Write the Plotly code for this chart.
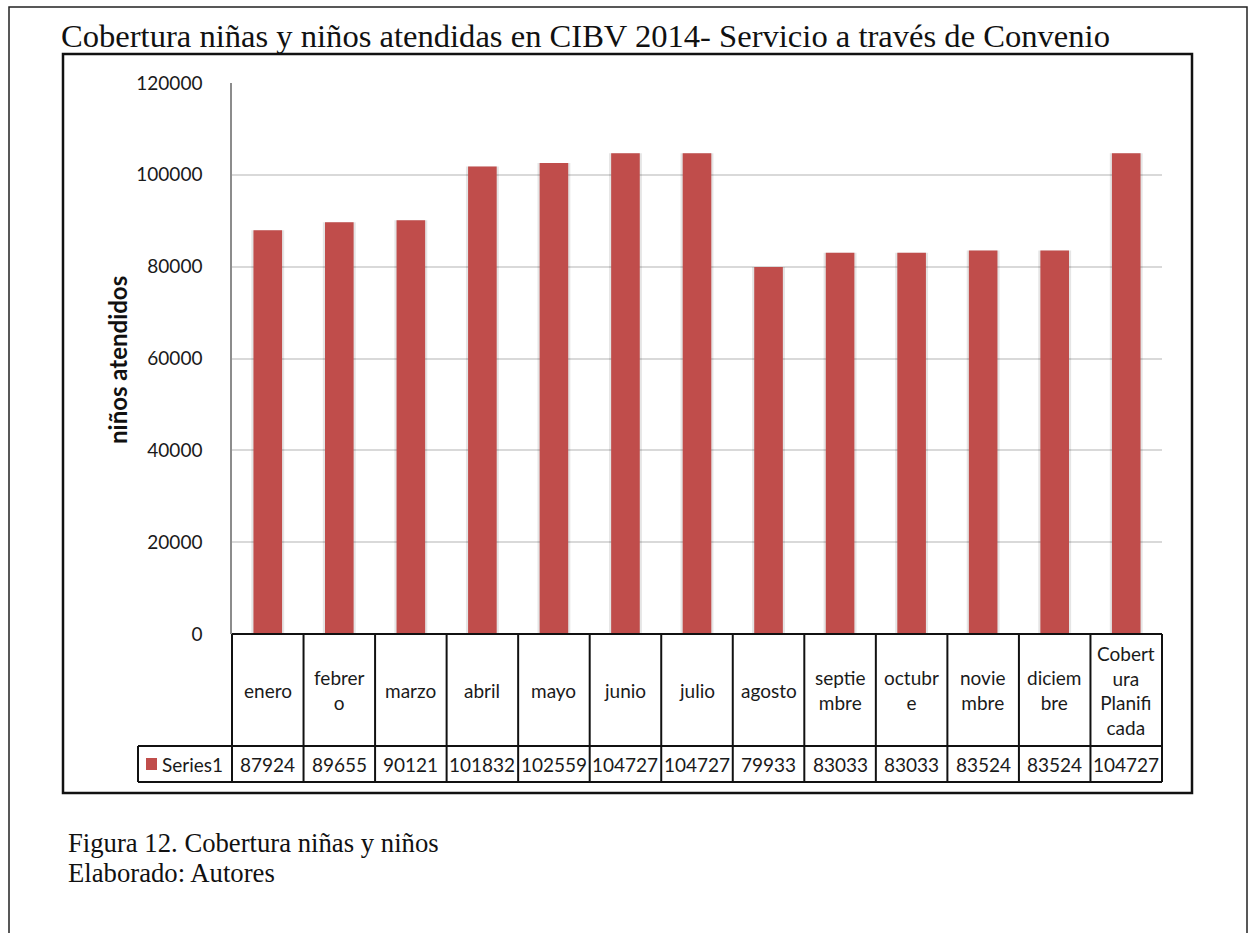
import plotly.graph_objects as go

# ---- data ----
categories = ["enero", "febrero", "marzo", "abril", "mayo", "junio", "julio",
              "agosto", "septiembre", "octubre", "noviembre", "diciembre",
              "Cobertura Planificada"]
cat_labels = ["enero", "febrer<br>o", "marzo", "abril", "mayo", "junio", "julio",
              "agosto", "septie<br>mbre", "octubr<br>e", "novie<br>mbre",
              "diciem<br>bre", "Cobert<br>ura<br>Planifi<br>cada"]
values = [87924, 89655, 90121, 101832, 102559, 104727, 104727,
          79933, 83033, 83033, 83524, 83524, 104727]
series_name = "Series1"
y_ticks = [0, 20000, 40000, 60000, 80000, 100000, 120000]
title_text = "Cobertura niñas y niños atendidas en CIBV 2014- Servicio a través de Convenio"
caption_lines = ["Figura 12. Cobertura niñas y niños", "Elaborado: Autores"]
y_title = "niños atendidos"

# ---- layout geometry (pixels) ----
W, H = 1256, 933
PL, PR, PT, PB = 232, 1162, 83, 634   # plot area
n = len(categories)

def px(xp):
    return (xp - PL) / (PR - PL)

def py(yp):
    return (PB - yp) / (PB - PT)

SANS = "Lato, 'Open Sans', sans-serif"
SERIF = "'Liberation Serif', 'Times New Roman', serif"
BAR = "#c04d4b"

fig = go.Figure()
# soft shadow behind bars
fig.add_trace(go.Bar(x=categories, y=values, width=0.46,
                     marker=dict(color="rgba(0,0,0,0.10)", line=dict(width=0)),
                     hoverinfo="skip", showlegend=False))
fig.add_trace(go.Bar(x=categories, y=values, width=0.4, name=series_name,
                     marker=dict(color=BAR, line=dict(width=0)),
                     showlegend=False))

shapes = []
line_k = dict(color="#111111", width=2)
# table vertical lines (category columns)
for i in range(n + 1):
    shapes.append(dict(type="line", xref="paper", yref="paper",
                       x0=i / n, x1=i / n, y0=py(634), y1=py(782), line=line_k))
# legend column left line
shapes.append(dict(type="line", xref="paper", yref="paper",
                   x0=px(138), x1=px(138), y0=py(746), y1=py(782), line=line_k))
# horizontal lines
shapes.append(dict(type="line", xref="paper", yref="paper",
                   x0=0, x1=1, y0=py(634), y1=py(634), line=line_k))
for yy in (746, 782):
    shapes.append(dict(type="line", xref="paper", yref="paper",
                       x0=px(138), x1=1, y0=py(yy), y1=py(yy), line=line_k))
# legend marker
shapes.append(dict(type="rect", xref="paper", yref="paper",
                   x0=px(146), x1=px(157), y0=py(770), y1=py(758),
                   fillcolor=BAR, line=dict(width=0)))
# inner chart box
shapes.append(dict(type="rect", xref="paper", yref="paper",
                   x0=px(63), x1=px(1192), y0=py(54), y1=py(793),
                   line=dict(color="#111111", width=2.5), layer="above"))
# outer page box
shapes.append(dict(type="rect", xref="paper", yref="paper",
                   x0=px(9), x1=px(1247), y0=py(7), y1=py(945),
                   line=dict(color="#222222", width=1.5), layer="above"))

annotations = []
for i, (lab, v) in enumerate(zip(cat_labels, values)):
    annotations.append(dict(x=(i + 0.5) / n, y=py(690), xref="paper", yref="paper",
                            text=lab, showarrow=False, xanchor="center", yanchor="middle",
                            font=dict(family=SANS, size=19, color="#1a1a1a")))
    annotations.append(dict(x=(i + 0.5) / n, y=py(764), xref="paper", yref="paper",
                            text=f"{v}", showarrow=False, xanchor="center", yanchor="middle",
                            font=dict(family=SANS, size=19, color="#1a1a1a")))
annotations.append(dict(x=px(160), y=py(764), xref="paper", yref="paper",
                        text=series_name, showarrow=False, xanchor="left", yanchor="middle",
                        font=dict(family=SANS, size=19, color="#1a1a1a")))
annotations.append(dict(x=px(59), y=py(36), xref="paper", yref="paper",
                        text=title_text, showarrow=False, xanchor="left", yanchor="middle",
                        font=dict(family=SERIF, size=32.6, color="#111111")))
for k, (line_txt, yy) in enumerate(zip(caption_lines, (843, 873))):
    annotations.append(dict(x=px(66), y=py(yy), xref="paper", yref="paper",
                            text=line_txt, showarrow=False, xanchor="left", yanchor="middle",
                            font=dict(family=SERIF, size=26.7, color="#111111")))
annotations.append(dict(x=px(117), y=py(360), xref="paper", yref="paper",
                        text=f"<b>{y_title}</b>", showarrow=False, textangle=-90,
                        xanchor="center", yanchor="middle",
                        font=dict(family=SANS, size=24, color="#111111")))

fig.update_layout(
    width=W, height=H,
    margin=dict(l=PL, r=W - PR, t=PT, b=H - PB, pad=0),
    paper_bgcolor="white", plot_bgcolor="white",
    barmode="overlay",
    showlegend=False,
    xaxis=dict(type="category", range=[-0.5, n - 0.5], showticklabels=False,
               showgrid=False, zeroline=False, showline=False, ticks=""),
    yaxis=dict(range=[0, 120000], tickvals=y_ticks, ticktext=[str(t) for t in y_ticks],
               showgrid=True, gridcolor="#d9d9d9", gridwidth=1.5,
               zeroline=False, showline=True, linecolor="#8c8c8c", linewidth=1.5,
               ticks="", ticklabelstandoff=24,
               tickfont=dict(family=SANS, size=19, color="#1a1a1a")),
    shapes=shapes,
    annotations=annotations,
)

fig.write_html("out.html")
